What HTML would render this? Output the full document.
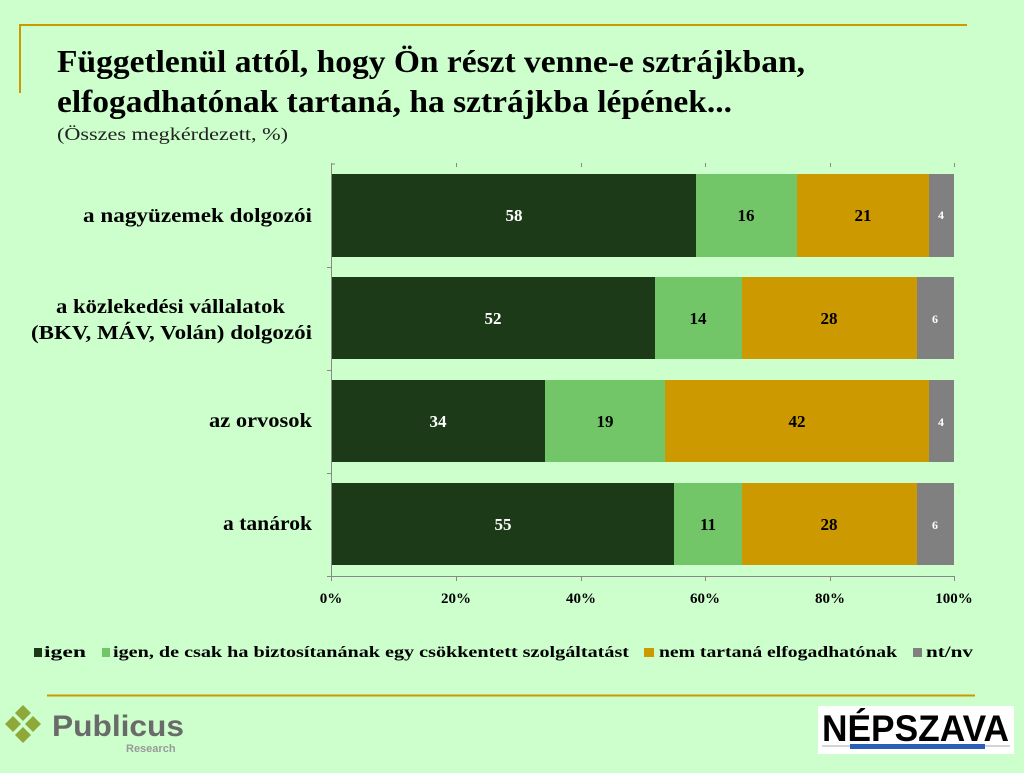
<!DOCTYPE html>
<html><head><meta charset="utf-8"><style>
body{margin:0;width:1024px;height:773px;background:#ccffcc;overflow:hidden;position:relative;font-family:"Liberation Serif",serif}
.a{position:absolute}
</style></head><body>
<div class="a" style="left:19px;top:24px;width:948px;height:2px;background:#cc9900"></div>
<div class="a" style="left:19px;top:24px;width:2px;height:69px;background:#cc9900"></div>
<svg class="a" style="left:0;top:0" width="1024" height="773">
<g font-family="Liberation Serif,serif" font-weight="bold" font-size="32" fill="#000">
<text x="57" y="72" textLength="748" lengthAdjust="spacingAndGlyphs">Függetlenül attól, hogy Ön részt venne-e sztrájkban,</text>
<text x="57" y="112" textLength="675" lengthAdjust="spacingAndGlyphs">elfogadhatónak tartaná, ha sztrájkba lépének...</text>
</g>
<text x="57" y="140" font-family="Liberation Serif,serif" font-size="18" fill="#222" textLength="231" lengthAdjust="spacingAndGlyphs">(Összes megkérdezett, %)</text>
<g stroke="#888" stroke-width="1">
<line x1="331.5" y1="163" x2="331.5" y2="577"/>
<line x1="331" y1="576.5" x2="955" y2="576.5"/>
<line x1="331" y1="164" x2="335" y2="164"/>
<line x1="456.5" y1="163" x2="456.5" y2="167"/><line x1="581.5" y1="163" x2="581.5" y2="167"/><line x1="705.5" y1="163" x2="705.5" y2="167"/><line x1="830.5" y1="163" x2="830.5" y2="167"/><line x1="954.5" y1="163" x2="954.5" y2="167"/>
<line x1="331.5" y1="576" x2="331.5" y2="581"/><line x1="456.5" y1="576" x2="456.5" y2="581"/><line x1="581.5" y1="576" x2="581.5" y2="581"/><line x1="705.5" y1="576" x2="705.5" y2="581"/><line x1="830.5" y1="576" x2="830.5" y2="581"/><line x1="954.5" y1="576" x2="954.5" y2="581"/>
<line x1="327" y1="267.5" x2="331" y2="267.5"/><line x1="327" y1="370.5" x2="331" y2="370.5"/><line x1="327" y1="473.5" x2="331" y2="473.5"/><line x1="327" y1="576.5" x2="331" y2="576.5"/>
</g>
<g>
<rect x="332" y="174" width="364" height="83" fill="#1c3a17"/><rect x="696" y="174" width="101" height="83" fill="#72c667"/><rect x="797" y="174" width="132" height="83" fill="#cc9900"/><rect x="929" y="174" width="25" height="83" fill="#808080"/>
<rect x="332" y="277" width="323" height="82" fill="#1c3a17"/><rect x="655" y="277" width="87" height="82" fill="#72c667"/><rect x="742" y="277" width="175" height="82" fill="#cc9900"/><rect x="917" y="277" width="37" height="82" fill="#808080"/>
<rect x="332" y="380" width="213" height="82" fill="#1c3a17"/><rect x="545" y="380" width="120" height="82" fill="#72c667"/><rect x="665" y="380" width="264" height="82" fill="#cc9900"/><rect x="929" y="380" width="25" height="82" fill="#808080"/>
<rect x="332" y="483" width="342" height="82" fill="#1c3a17"/><rect x="674" y="483" width="68" height="82" fill="#72c667"/><rect x="742" y="483" width="175" height="82" fill="#cc9900"/><rect x="917" y="483" width="37" height="82" fill="#808080"/>
</g>
<g font-family="Liberation Serif,serif" font-weight="bold" font-size="17" text-anchor="middle">
<text x="514" y="221" fill="#fff">58</text><text x="746" y="221" fill="#000">16</text><text x="863" y="221" fill="#000">21</text><text x="941" y="219" fill="#fff" font-size="12">4</text>
<text x="493" y="324" fill="#fff">52</text><text x="698" y="324" fill="#000">14</text><text x="829" y="324" fill="#000">28</text><text x="935" y="323" fill="#fff" font-size="12">6</text>
<text x="438" y="427" fill="#fff">34</text><text x="605" y="427" fill="#000">19</text><text x="797" y="427" fill="#000">42</text><text x="941" y="426" fill="#fff" font-size="12">4</text>
<text x="503" y="530" fill="#fff">55</text><text x="708" y="530" fill="#000">11</text><text x="829" y="530" fill="#000">28</text><text x="935" y="529" fill="#fff" font-size="12">6</text>
</g>
<g font-family="Liberation Serif,serif" font-weight="bold" font-size="20" fill="#000">
<text x="83" y="222" textLength="229" lengthAdjust="spacingAndGlyphs">a nagyüzemek dolgozói</text>
<text x="56" y="313" textLength="229" lengthAdjust="spacingAndGlyphs">a közlekedési vállalatok</text>
<text x="31" y="339" textLength="281" lengthAdjust="spacingAndGlyphs">(BKV, MÁV, Volán) dolgozói</text>
<text x="209" y="427" textLength="103" lengthAdjust="spacingAndGlyphs">az orvosok</text>
<text x="223" y="530" textLength="89" lengthAdjust="spacingAndGlyphs">a tanárok</text>
</g>
<g font-family="Liberation Serif,serif" font-weight="bold" font-size="15" text-anchor="middle" fill="#000">
<text x="331" y="603">0%</text><text x="456" y="603">20%</text><text x="581" y="603">40%</text><text x="705" y="603">60%</text><text x="830" y="603">80%</text><text x="954" y="603">100%</text>
</g>
<g font-family="Liberation Serif,serif" font-weight="bold" font-size="16" fill="#000">
<rect x="34" y="648" width="8" height="9" fill="#1c3a17"/><text x="44" y="657" textLength="42" lengthAdjust="spacingAndGlyphs">igen</text>
<rect x="102" y="648" width="8" height="9" fill="#72c667"/><text x="113" y="657" textLength="516" lengthAdjust="spacingAndGlyphs">igen, de csak ha biztosítanának egy csökkentett szolgáltatást</text>
<rect x="644" y="648" width="10" height="9" fill="#cc9900"/><text x="659" y="657" textLength="238" lengthAdjust="spacingAndGlyphs">nem tartaná elfogadhatónak</text>
<rect x="913" y="648" width="9" height="9" fill="#808080"/><text x="926" y="657" textLength="47" lengthAdjust="spacingAndGlyphs">nt/nv</text>
</g>
<line x1="47" y1="695.5" x2="975" y2="695.5" stroke="#cc9900" stroke-width="2"/>
<g fill="#8fa83a">
<polygon points="23,705 31,713 23,721 15,713"/><polygon points="13,716 21,724 13,732 5,724"/><polygon points="23,727 31,735 23,743 15,735"/><polygon points="33,716 41,724 33,732 25,724"/>
</g>
<text x="52" y="736" font-family="Liberation Sans,sans-serif" font-weight="bold" font-size="30" fill="#6a6a6a" textLength="132" lengthAdjust="spacingAndGlyphs">Publicus</text>
<text x="126" y="752" font-family="Liberation Sans,sans-serif" font-weight="bold" font-size="11" fill="#999">Research</text>
<rect x="818" y="706" width="196" height="48" fill="#fff"/>
<text x="822" y="741" font-family="Liberation Sans,sans-serif" font-weight="bold" font-size="37" fill="#000" textLength="187" lengthAdjust="spacingAndGlyphs">NÉPSZAVA</text>
<line x1="822" y1="746" x2="1010" y2="746" stroke="#aaa" stroke-width="1"/>
<rect x="850" y="744" width="135" height="5" fill="#2a5fb8"/>
</svg>
</body></html>
